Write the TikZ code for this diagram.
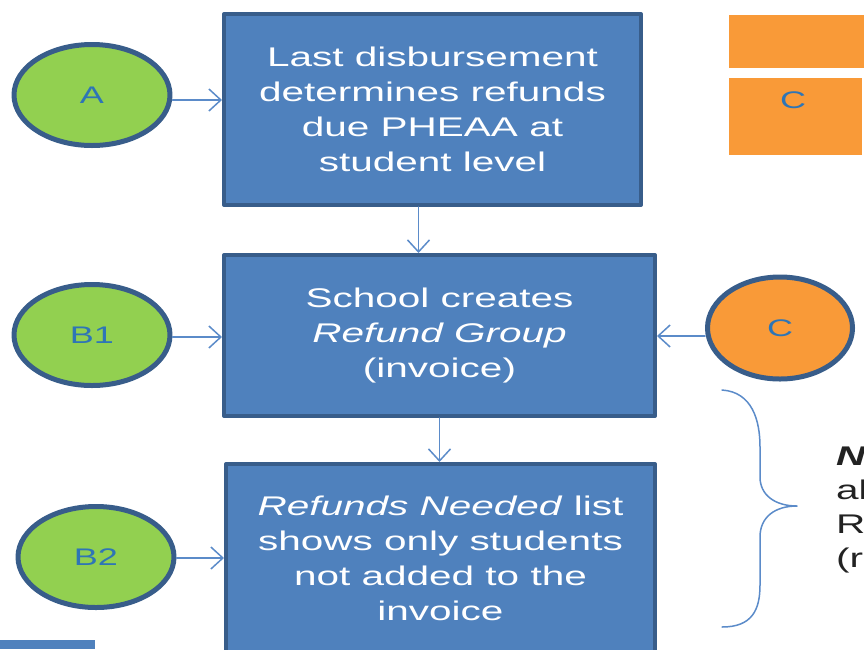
\documentclass[tikz,border=0pt]{standalone}
\usepackage{fontspec}
\setmainfont{Liberation Sans}[FakeStretch=1.5]
\usetikzlibrary{arrows.meta,shapes.geometric}
\definecolor{boxblue}{HTML}{4F81BD}
\definecolor{boxline}{HTML}{385D8A}
\definecolor{bubgreen}{HTML}{92D050}
\definecolor{buborange}{HTML}{F99A38}
\definecolor{lettblue}{HTML}{2E75B6}
\definecolor{linkblue}{HTML}{5B8BC9}
\definecolor{notegray}{HTML}{222222}

\begin{document}
\begin{tikzpicture}[x=1pt,y=-1pt,line cap=round,line join=round,
    stepbox/.style={draw=boxline,line width=4pt,fill=boxblue,text=white,align=center,
        inner sep=0pt,font=\fontsize{27}{35}\selectfont},
    bubble/.style={ellipse,draw=boxline,line width=5pt,text=lettblue,inner sep=0pt,
        minimum width=156pt,minimum height=101pt,font=\fontsize{24}{28}\selectfont},
    link/.style={draw=linkblue,line width=1.5pt,
        -{Straight Barb[length=12pt,width=22pt]}}]
    \useasboundingbox (0,0) rectangle (864,649);
    \clip (0,0) rectangle (864,649);
    % orange blocks, top right
    \fill [buborange] (729,15) rectangle (864,68);
    \fill [buborange] (729,78) rectangle (862,155);
    \node [text=lettblue,font=\fontsize{24}{28}\selectfont] (cblock) at (793,100) {C};
    % bar, bottom left
    \fill [boxblue] (0,640) rectangle (95,649);
    % steps
    \node [stepbox,minimum width=417pt,minimum height=191pt] (last) at (432.5,109.5)
        {Last disbursement\\determines refunds\\due PHEAA at\\student level};
    \node [stepbox,minimum width=431pt,minimum height=161pt] (group) at (439.5,335.5)
        {School creates\\\textit{Refund Group}\\(invoice)};
    \node [stepbox,minimum width=429pt,minimum height=188pt] (needed) at (440.5,558)
        {\textit{Refunds Needed} list\\shows only students\\not added to the\\invoice};
    % bubbles
    \node [bubble,fill=bubgreen] (A) at (92,95) {A};
    \node [bubble,fill=bubgreen] (B1) at (92,335) {B1};
    \node [bubble,fill=bubgreen] (B2) at (96,557) {B2};
    \node [bubble,fill=buborange,minimum width=145pt,minimum height=102pt] (C) at (780,328) {C};
    % connectors
    \draw [link] ([yshift=-5pt]A.east) -- ([yshift=-5pt]A.east -| last.west);
    \draw [link] ([yshift=-2pt]B1.east) -- ([yshift=-2pt]B1.east -| group.west);
    \draw [link] ([yshift=-1pt]B2.east) -- ([yshift=-1pt]B2.east -| needed.west);
    \draw [link] ([yshift=-8pt]C.west) -- ([yshift=-8pt]C.west -| group.east);
    \draw [link] ([xshift=-14pt]last.south) -- ([xshift=-14pt]last.south |- group.north);
    \draw [link] (group.south) -- (group.south |- needed.north);
    % brace
    \draw [linkblue,line width=1.5pt] (722,390) .. controls (752,392) and (760,420) .. (760,447)
        -- (760,477) .. controls (760,495) and (775,506) .. (797,506)
        .. controls (775,506) and (760,517) .. (760,537)
        -- (760,585) .. controls (760,610) and (752,627) .. (722,627);
    % note, cut at the right edge
    \foreach \txt [count=\i] in {{\bfseries\itshape N},{al},{R},{(r}}
        \node [anchor=base west,inner sep=0pt,text=notegray,font=\fontsize{27}{34}\selectfont]
            (note\i) at (836,{431+34*\i}) {\txt};
\end{tikzpicture}
\end{document}
